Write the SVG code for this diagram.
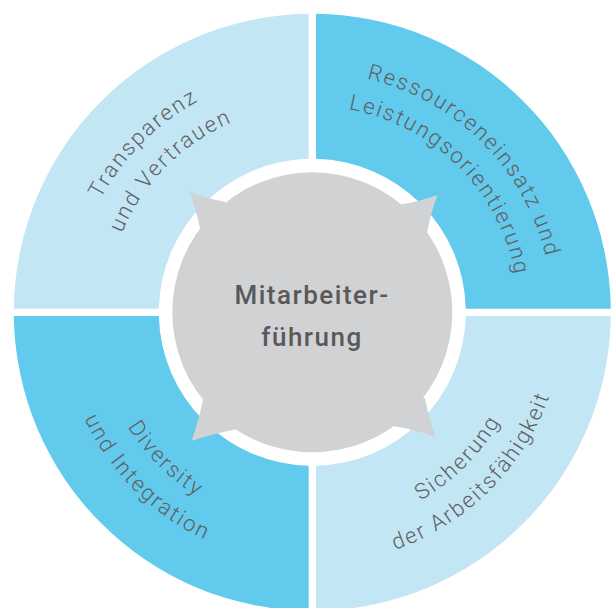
<svg xmlns="http://www.w3.org/2000/svg" width="614" height="608" viewBox="0 0 614 608">
  <style>
    .light { fill: #c3e6f5; }
    .dark { fill: #62caec; }
    .hub { fill: #d1d2d4; }
    .label { font-family: Roboto, "Open Sans", sans-serif; font-weight: 300; font-size: 22px; letter-spacing: 2px; fill: #5f6062; }
    .title { font-family: Roboto, "Open Sans", sans-serif; font-weight: 500; font-size: 26px; letter-spacing: 1.5px; fill: #58595b; text-anchor: middle; }
  </style>
  <defs>
    <!-- clockwise arcs (glyph tops outward), centred on 225deg / 315deg -->
    <path id="arcTLout" d="M 142.59 482.01 A 240 240 0 0 1 482.01 142.59"/>
    <path id="arcTLin" d="M 165.93 458.67 A 207 207 0 0 1 458.67 165.93"/>
    <path id="arcTRout" d="M 142.59 142.59 A 240 240 0 0 1 482.01 482.01"/>
    <path id="arcTRin" d="M 165.93 165.93 A 207 207 0 0 1 458.67 458.67"/>
    <!-- counter-clockwise arcs (glyph tops inward), centred on 135deg / 45deg -->
    <path id="arcBLin" d="M 157.80 157.80 A 218.5 218.5 0 0 0 466.80 466.80"/>
    <path id="arcBLout" d="M 134.46 134.46 A 251.5 251.5 0 0 0 490.14 490.14"/>
    <path id="arcBRin" d="M 157.80 466.80 A 218.5 218.5 0 0 0 466.80 157.80"/>
    <path id="arcBRout" d="M 134.46 490.14 A 251.5 251.5 0 0 0 490.14 134.46"/>
  </defs>

  <rect width="614" height="608" fill="#ffffff"/>

  <g id="transparenz">
    <path class="light" d="M 308.65 13.82 A 298.5 298.5 0 0 0 13.82 308.65 L 158.84 308.65 A 153.5 153.5 0 0 1 308.65 158.84 Z"/>
    <text class="label"><textPath href="#arcTLout" startOffset="50%" text-anchor="middle">Transparenz</textPath></text>
    <text class="label"><textPath href="#arcTLin" startOffset="50%" text-anchor="middle">und Vertrauen</textPath></text>
  </g>

  <g id="ressourcen">
    <path class="dark" d="M 315.95 13.82 A 298.5 298.5 0 0 1 610.78 308.65 L 465.76 308.65 A 153.5 153.5 0 0 0 315.95 158.84 Z"/>
    <text class="label"><textPath href="#arcTRout" startOffset="50%" text-anchor="middle">Ressourceneinsatz und</textPath></text>
    <text class="label"><textPath href="#arcTRin" startOffset="50%" text-anchor="middle">Leistungsorientierung</textPath></text>
  </g>

  <g id="sicherung">
    <path class="light" d="M 610.78 315.95 A 298.5 298.5 0 0 1 315.95 610.78 L 315.95 465.76 A 153.5 153.5 0 0 0 465.76 315.95 Z"/>
    <text class="label"><textPath href="#arcBRin" startOffset="50%" text-anchor="middle">Sicherung</textPath></text>
    <text class="label"><textPath href="#arcBRout" startOffset="50%" text-anchor="middle">der Arbeitsfähigkeit</textPath></text>
  </g>

  <g id="diversity">
    <path class="dark" d="M 308.65 610.78 A 298.5 298.5 0 0 1 13.82 315.95 L 158.84 315.95 A 153.5 153.5 0 0 0 308.65 465.76 Z"/>
    <text class="label"><textPath href="#arcBLin" startOffset="50%" text-anchor="middle">Diversity</textPath></text>
    <text class="label"><textPath href="#arcBLout" startOffset="50%" text-anchor="middle">und Integration</textPath></text>
  </g>

  <g id="mitarbeiterfuehrung">
    <circle class="hub" cx="312.3" cy="312.3" r="140"/>
    <!-- four pointed spikes on the diagonals -->
    <path class="hub" d="M 225 201.7 Q 206.7 198.6 189.3 191.7 Q 196.5 210.5 200 228.3 L 240 240 Z"/>
    <path class="hub" d="M 401.7 204.3 Q 419.5 201.5 437.7 195 Q 430.3 213.5 427.3 231.7 L 385 240 Z"/>
    <path class="hub" d="M 425 398.3 Q 428.6 418.5 435.7 437.3 Q 415.5 429.5 392.7 426 L 385 385 Z"/>
    <path class="hub" d="M 236 429.3 Q 213.5 433.5 191.7 440.7 Q 199.3 419.5 203.3 398.3 L 240 385 Z"/>
    <text class="title" x="312" y="304">Mitarbeiter-</text>
    <text class="title" x="312" y="346">führung</text>
  </g>
</svg>
